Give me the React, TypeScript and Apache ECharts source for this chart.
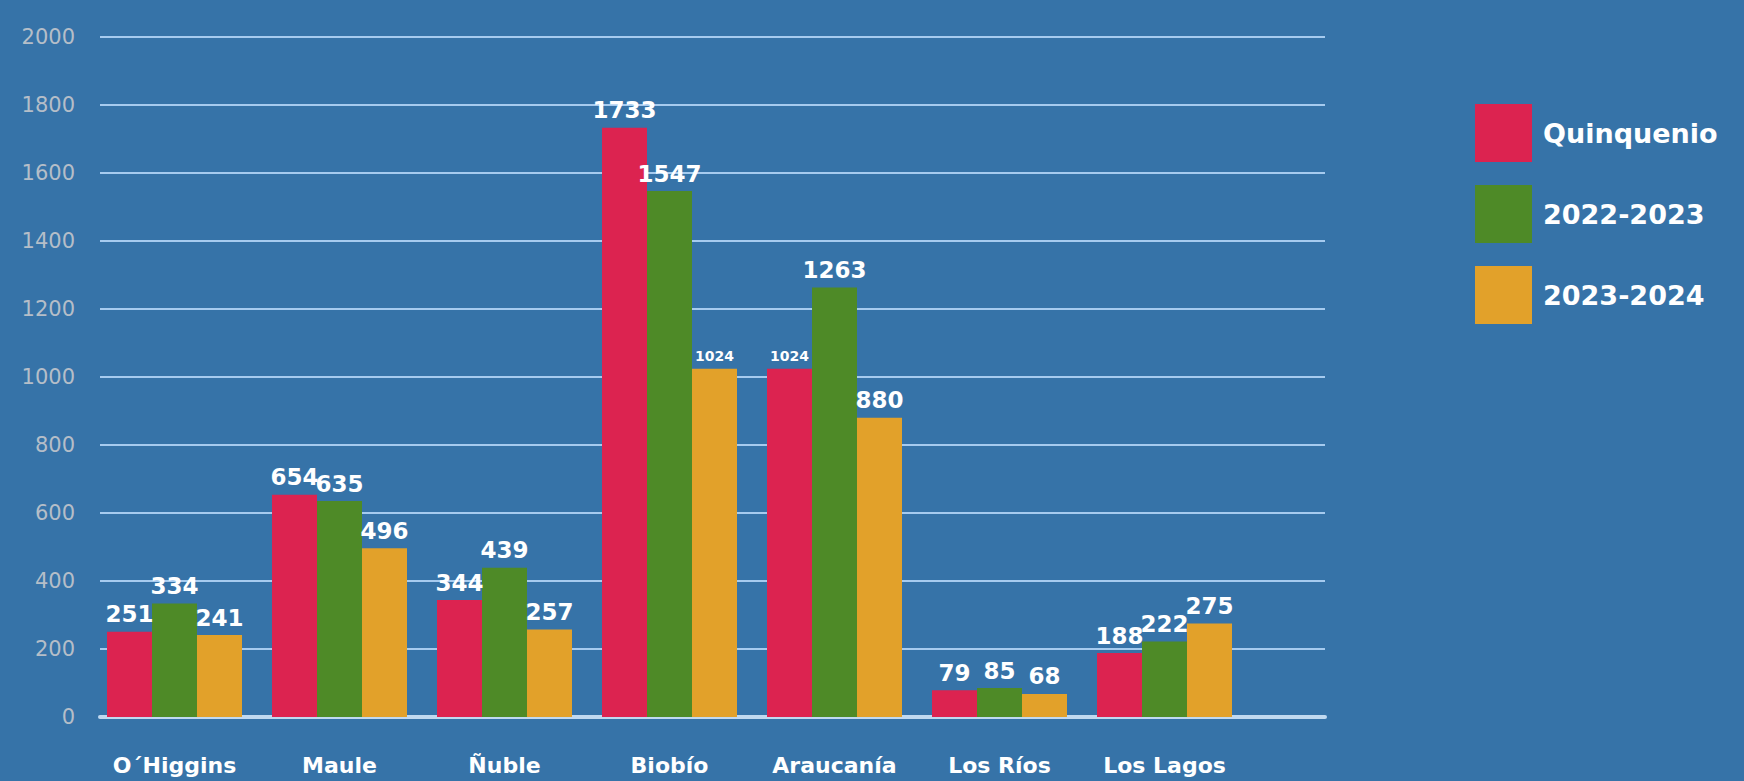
import React, { useEffect, useRef } from "react";
import * as echarts from "echarts";

const categories = ["O´Higgins", "Maule", "Ñuble", "Biobío", "Araucanía", "Los Ríos", "Los Lagos"];
const seriesNames = ["Quinquenio", "2022-2023", "2023-2024"];
const quinquenio = [251, 654, 344, 1733, 1024, 79, 188];
const y2022_2023 = [334, 635, 439, 1547, 1263, 85, 222];
const y2023_2024 = [241, 496, 257, 1024, 880, 68, 275];
const yTicks = [0, 200, 400, 600, 800, 1000, 1200, 1400, 1600, 1800, 2000];

const colors = ["#dc2350", "#4e8a27", "#e2a12a"];
const FONT = "'DejaVu Sans', sans-serif";

export default function App() {
  const ref = useRef<HTMLDivElement>(null);
  useEffect(() => {
    document.body.style.margin = "0";
    const chart = echarts.init(ref.current!, null, { renderer: "svg" });
    const top = 37;
    const bottom = 64;
    const yMin = yTicks[0];
    const yMax = yTicks[yTicks.length - 1];
    const interval = yTicks[1] - yTicks[0];
    const mk = (arr: number[], smallIdx: number[] = []) =>
      arr.map((v, i) =>
        smallIdx.includes(i) ? { value: v, label: { fontSize: 14 } } : v
      );
    const datasets = [mk(quinquenio, [4]), mk(y2022_2023), mk(y2023_2024, [3])];
    chart.setOption({
      animation: false,
      backgroundColor: "#3673a8",
      legend: {
        orient: "vertical",
        left: 1470,
        top: 99,
        itemWidth: 57,
        itemHeight: 58,
        itemGap: 23,
        icon: "rect",
        data: seriesNames,
        textStyle: {
          color: "#ffffff",
          fontFamily: FONT,
          fontWeight: "bold",
          fontSize: 27,
          padding: [0, 0, 0, 6],
        },
      },
      grid: [
        { left: 100, right: 419, top, bottom, containLabel: false },
        { left: 92, right: 497, top, bottom, containLabel: false },
      ],
      xAxis: [
        {
          type: "category",
          gridIndex: 0,
          data: categories,
          axisLine: { show: true, lineStyle: { color: "#c0d9f0", width: 4 } },
          axisTick: { show: false },
          axisLabel: { show: false },
        },
        {
          type: "category",
          gridIndex: 1,
          data: categories,
          axisLine: { show: false },
          axisTick: { show: false },
          axisLabel: {
            color: "#ffffff",
            fontFamily: FONT,
            fontWeight: "bold",
            fontSize: 22,
            margin: 37,
          },
        },
      ],
      yAxis: [
        {
          type: "value",
          gridIndex: 0,
          min: yMin,
          max: yMax,
          interval,
          axisLine: { show: false },
          axisTick: { show: false },
          axisLabel: {
            color: "#b5bec8",
            fontFamily: FONT,
            fontSize: 21,
            margin: 25,
            formatter: (v: number) => String(v),
          },
          splitLine: { show: true, lineStyle: { color: "#a6cbef", width: 2 } },
        },
        {
          type: "value",
          gridIndex: 1,
          min: yMin,
          max: yMax,
          interval,
          show: false,
          splitLine: { show: false },
        },
      ],
      series: seriesNames.map((name, k) => ({
        name,
        type: "bar",
        xAxisIndex: 1,
        yAxisIndex: 1,
        data: datasets[k],
        barWidth: 45,
        barGap: "0%",
        itemStyle: { color: colors[k] },
        label: {
          show: true,
          position: "top",
          distance: 6,
          color: "#ffffff",
          fontFamily: FONT,
          fontWeight: "bold",
          fontSize: 23,
        },
      })),
    });
    return () => chart.dispose();
  }, []);
  return (
    <div
      ref={ref}
      style={{ position: "absolute", left: 0, top: 0, width: 1744, height: 781 }}
    />
  );
}
